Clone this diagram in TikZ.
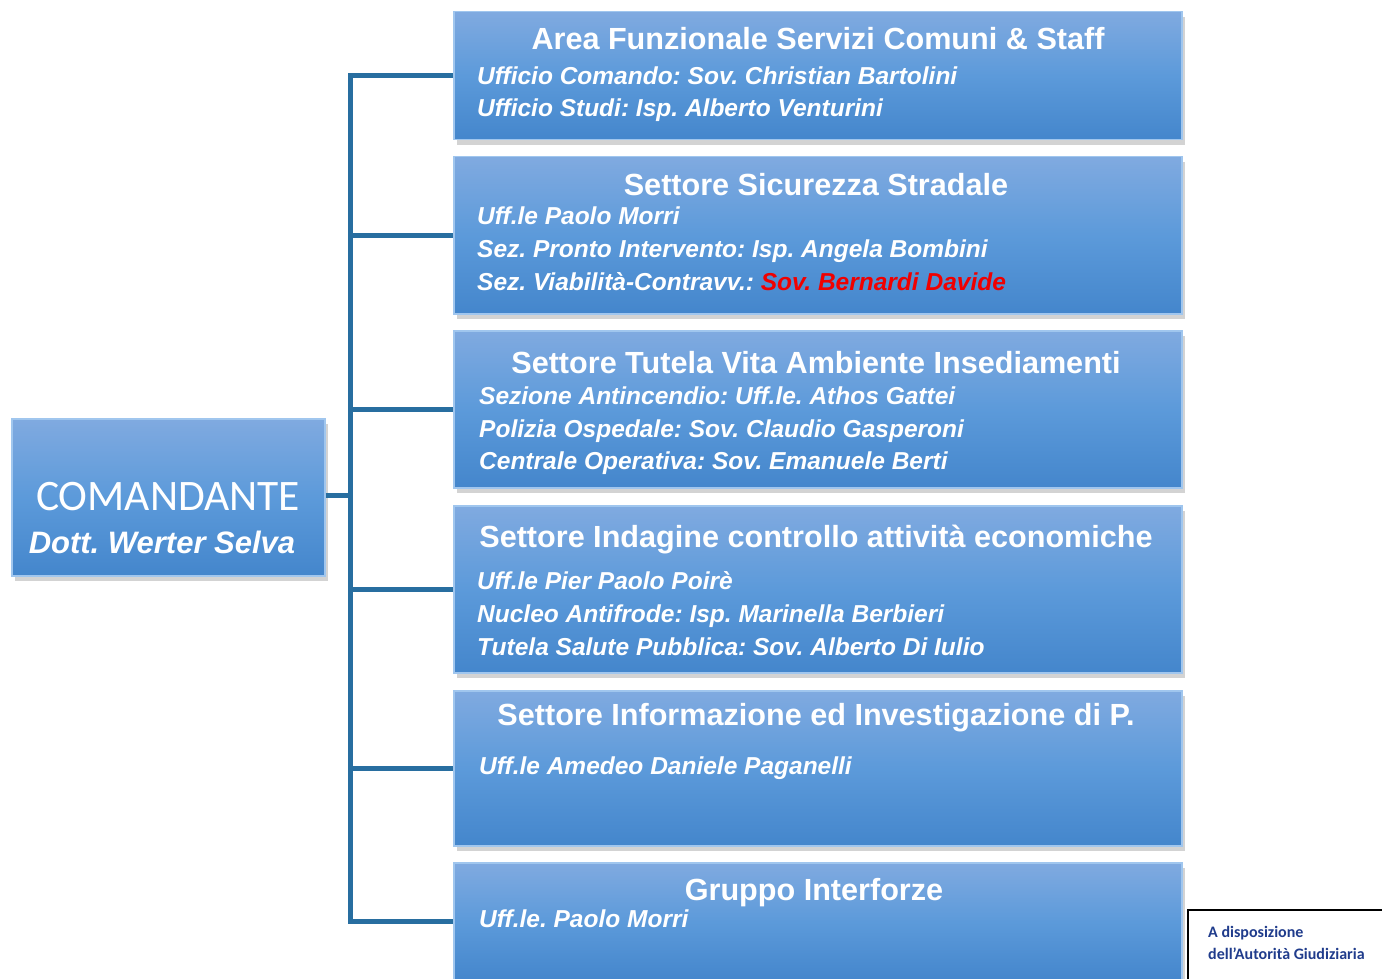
\documentclass[tikz,border=0pt]{standalone}
\usepackage{fontspec}
\setmainfont{Liberation Sans}
\newfontfamily\calibri{Carlito}
\usetikzlibrary{shadows}
\definecolor{boxtop}{RGB}{128,170,224}
\definecolor{boxmid}{RGB}{92,154,218}
\definecolor{boxbot}{RGB}{68,134,204}
\definecolor{boxrim}{RGB}{160,198,238}
\definecolor{wire}{RGB}{40,110,160}
\definecolor{notetext}{RGB}{32,60,140}
\definecolor{alert}{RGB}{240,0,0}
\frenchspacing
\begin{document}
\begin{tikzpicture}[x=1pt,y=-1pt,
	unit/.style={rectangle, anchor=north west, top color=boxtop, bottom color=boxbot,
		middle color=boxmid, draw=boxrim, line width=1.5pt,
		drop shadow={shadow xshift=3pt, shadow yshift=-5pt, opacity=0.35}},
	title/.style={anchor=base, inner sep=0pt, text=white, font=\fontsize{30.6}{30.6}\selectfont\bfseries},
	item/.style={anchor=base west, inner sep=0pt, text=white, font=\fontsize{24.5}{24.5}\selectfont\bfseries\itshape},
	note/.style={anchor=base west, inner sep=0pt, text=notetext, font=\calibri\fontsize{16}{16}\selectfont\bfseries},
	link/.style={draw=wire, line width=5pt, line join=miter}]
	\useasboundingbox (0,0) rectangle (1382,979);
	\clip (0,0) rectangle (1382,979);
	% Boxes
	\node[unit, minimum width=313pt, minimum height=157pt] (cmd) at (11,418) {};
	\node[unit, minimum width=728pt, minimum height=128pt] (area) at (453,11) {};
	\node[unit, minimum width=728pt, minimum height=157pt] (strade) at (453,156) {};
	\node[unit, minimum width=728pt, minimum height=157pt] (tutela) at (453,330) {};
	\node[unit, minimum width=728pt, minimum height=167pt] (indagine) at (453,505) {};
	\node[unit, minimum width=728pt, minimum height=155pt] (info) at (453,690) {};
	\node[unit, minimum width=728pt, minimum height=118pt] (gruppo) at (453,862) {};
	% Connectors
	\coordinate (bus) at (350,495);
	\draw[link] (cmd.east |- bus) -- (bus);
	\draw[link] (area.west) -- (bus |- area.west) -- (bus |- gruppo.west) -- (gruppo.west);
	\foreach \b in {strade,tutela,indagine,info}
		\draw[link] (bus |- \b.west) -- (\b.west);
	% Comandante
	\node[anchor=base, inner sep=0pt, text=white, font=\calibri\fontsize{43.5}{43.5}\selectfont] (cmdT) at (168,510) {COMANDANTE};
	\node[anchor=base, inner sep=0pt, text=white, font=\fontsize{31}{31}\selectfont\bfseries\itshape] (cmdN) at (162,553) {Dott. Werter Selva};
	% Area
	\node[title] (areaT) at (818,50) {Area Funzionale Servizi Comuni \& Staff};
	\node[item] (area1) at (477,85) {Ufficio Comando: Sov. Christian Bartolini};
	\node[item] (area2) at (477,117) {Ufficio Studi: Isp. Alberto Venturini};
	% Sicurezza stradale
	\node[title] (stradeT) at (816,196) {Settore Sicurezza Stradale};
	\node[item] (strade1) at (477,224) {Uff.le Paolo Morri};
	\node[item] (strade2) at (477,257) {Sez. Pronto Intervento: Isp. Angela Bombini};
	\node[item] (strade3) at (477,290) {Sez. Viabilità-Contravv.: \textcolor{alert}{Sov. Bernardi Davide}};
	% Tutela
	\node[title] (tutelaT) at (816,373) {Settore Tutela Vita Ambiente Insediamenti};
	\node[item] (tutela1) at (479,404) {Sezione Antincendio: Uff.le. Athos Gattei};
	\node[item] (tutela2) at (479,437) {Polizia Ospedale: Sov. Claudio Gasperoni};
	\node[item] (tutela3) at (479,469) {Centrale Operativa: Sov. Emanuele Berti};
	% Indagine
	\node[title] (indagineT) at (816,547) {Settore Indagine controllo attività economiche};
	\node[item] (indagine1) at (477,589) {Uff.le Pier Paolo Poirè};
	\node[item] (indagine2) at (477,622) {Nucleo Antifrode: Isp. Marinella Berbieri};
	\node[item] (indagine3) at (477,655) {Tutela Salute Pubblica: Sov. Alberto Di Iulio};
	% Informazione
	\node[title] (infoT) at (816,725) {Settore Informazione ed Investigazione di P.};
	\node[item] (info1) at (479,774) {Uff.le Amedeo Daniele Paganelli};
	% Gruppo
	\node[title] (gruppoT) at (814,900) {Gruppo Interforze};
	\node[item] (gruppo1) at (479,927) {Uff.le. Paolo Morri};
	% Note
	\draw[black, line width=2pt, fill=white] (1188,910) rectangle (1392,995);
	\node[note] (note1) at (1208,937) {A disposizione};
	\node[note] (note2) at (1208,959) {dell’Autorità Giudiziaria};
\end{tikzpicture}
\end{document}
